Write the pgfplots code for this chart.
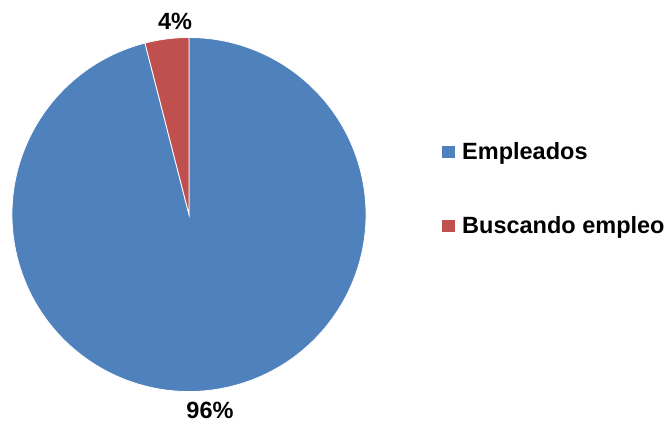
\documentclass[border=0pt]{standalone}
\usepackage{pgfplots}
\usepackage{pgfplotstable}
\pgfplotsset{compat=1.18}
\usepackage{fontspec}
\setmainfont{Liberation Sans}
\definecolor{pieblue}{HTML}{4F81BD}
\definecolor{piered}{HTML}{C0504D}

% shares in percent
\pgfplotstableread{
share
96
4
}\piedata

\begin{document}
\begin{tikzpicture}
\pgfplotstablegetelem{0}{share}\of\piedata \edef\sa{\pgfplotsretval}
\pgfplotstablegetelem{1}{share}\of\piedata \edef\sb{\pgfplotsretval}
\pgfmathsetmacro\angb{90+3.6*\sb}
\begin{axis}[
  scale only axis, width=670pt, height=423pt,
  xmin=0, xmax=670, ymin=0, ymax=423,
  hide axis, clip=false,
  legend image code/.code={\fill[#1, draw=none] (0pt,-6pt) rectangle (13pt,6pt);},
  legend cell align=left,
  legend style={at={(axis cs:442,234)}, anchor=west, draw=none, fill=none,
    inner sep=0pt, row sep=55pt,
    font=\fontsize{23.5}{28}\selectfont\bfseries,
    nodes={inner sep=0pt},
    /tikz/every odd column/.append style={column sep=7pt}},
]
\addlegendimage{fill=pieblue}
\addlegendentry{Empleados}
\addlegendimage{fill=piered}
\addlegendentry{Buscando empleo}

\filldraw[fill=pieblue, draw=white, line width=0.8pt]
  (axis cs:189,208.5) -- ++(\angb:177pt) arc[start angle=\angb, end angle=450, radius=177pt] -- cycle;
\filldraw[fill=piered, draw=white, line width=0.8pt]
  (axis cs:189,208.5) -- ++(90:177pt) arc[start angle=90, end angle=\angb, radius=177pt] -- cycle;

\node[font=\fontsize{23.5}{28}\selectfont\bfseries] at (axis cs:175,402) {\sb\%};
\node[font=\fontsize{23.5}{28}\selectfont\bfseries] at (axis cs:210,12.5) {\sa\%};
\coordinate (ll) at (rel axis cs:0,0);
\coordinate (ur) at (rel axis cs:1,1);
\end{axis}
\pgfresetboundingbox
\useasboundingbox (ll) rectangle (ur);
\end{tikzpicture}
\end{document}
